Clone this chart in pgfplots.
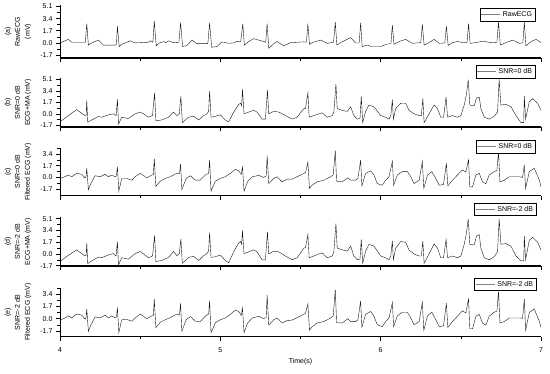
\documentclass[border=0pt]{standalone}
\usepackage{fontspec}
\setmainfont{Liberation Sans}
\usepackage{pgfplots}
\pgfplotsset{compat=1.18}

\pgfplotsset{
  panel/.style={
    scale only axis, width=481pt,
    xmin=4, xmax=7,
    xtick={4,5,6,7}, minor x tick num=1,
    ytick={-1.7,0,1.7,3.4,5.1}, minor y tick num=1,
    yticklabels={-1.7,0.0,1.7,3.4,5.1},
    axis x line*=bottom, axis y line*=left,
    x axis line style={-, line width=1.3pt},
    y axis line style={-, line width=0.7pt},
    tick align=outside,
    major tick length=4pt, minor tick length=2.5pt,
    every tick/.style={black, line width=0.6pt},
    tick label style={font=\fontsize{7}{8}\selectfont},
    /pgf/number format/assume math mode=true,
    ylabel style={at={(axis description cs:-0.087,0.5)}, anchor=center,
      align=center, font=\fontsize{7}{10}\selectfont},
    legend style={draw=black, line width=0.5pt, inner sep=1pt,
      font=\fontsize{7}{8}\selectfont, anchor=north east,
      row sep=-1pt},
    legend image code/.code={\draw[gray, line width=0.7pt] (0pt,0pt) -- (19pt,0pt);},
    cycle list={{black!90, line width=0.55pt, no marks}},
  }
}

\begin{document}
\begin{tikzpicture}
\path[use as bounding box] (0,0) rectangle (550pt,-373pt);

% (a) raw ECG
\begin{axis}[panel, at={(60pt,-58pt)}, anchor=south west,
  height=53pt, ymin=-2.1, ymax=5.3, xticklabels={},
  ylabel={(a)\\RawECG\\(mV)},
  legend style={at={(axis description cs:0.988,0.94)}}]
\addplot table {
4.000 0.0
4.052 0.5
4.073 0.1
4.146 0.1
4.158 0.1
4.167 2.7
4.177 -0.3
4.192 -0.05
4.240 0.4
4.271 -0.3
4.344 -0.3
4.352 -0.2
4.358 2.35
4.369 -0.5
4.385 -0.2
4.438 0.3
4.469 0.0
4.552 0.1
4.563 0.3
4.579 0.1
4.588 3.05
4.600 -0.4
4.615 -0.05
4.646 0.2
4.660 0.05
4.677 0.3
4.708 0.05
4.742 0.1
4.752 2.85
4.765 -0.5
4.792 -0.35
4.823 0.4
4.854 -0.1
4.922 -0.1
4.933 2.8
4.946 -0.6
4.979 -0.5
5.010 0.15
5.052 -0.05
5.083 0.0
5.104 0.25
5.127 0.15
5.140 2.7
5.150 -0.3
5.177 0.2
5.208 0.6
5.271 0.2
5.283 0.1
5.292 2.7
5.302 -0.75
5.333 -0.1
5.354 0.2
5.396 -0.4
5.438 0.05
5.521 0.15
5.537 0.1
5.546 2.7
5.556 -0.2
5.573 0.05
5.625 0.4
5.667 -0.05
5.706 0.1
5.717 2.9
5.727 -0.3
5.750 0.05
5.813 0.75
5.844 0.0
5.866 0.0
5.875 2.8
5.885 -0.5
5.917 -0.3
5.938 -0.5
6.000 -0.5
6.042 -0.15
6.064 -0.1
6.073 2.5
6.083 -0.2
6.115 0.2
6.156 0.5
6.198 -0.05
6.250 0.05
6.260 2.6
6.271 -0.3
6.302 0.05
6.333 0.5
6.365 -0.05
6.400 0.0
6.410 2.35
6.421 -0.35
6.448 0.05
6.479 0.2
6.510 0.05
6.539 0.1
6.548 2.7
6.558 -0.05
6.594 0.05
6.635 0.25
6.688 0.05
6.725 0.1
6.735 2.9
6.746 -0.3
6.781 0.05
6.823 0.4
6.865 -0.05
6.887 0.0
6.896 2.95
6.906 -0.4
6.938 0.2
6.969 0.5
7.000 0.05
};
\addlegendentry{RawECG}
\end{axis}

% (b) ECG + MA, SNR = 0 dB
\begin{axis}[panel, at={(60pt,-127pt)}, anchor=south west,
  height=49pt, ymin=-1.95, ymax=5.3, xticklabels={},
  ylabel={(b)\\SNR=0 dB\\ECG+MA (mV)},
  legend style={at={(axis description cs:0.988,1.265)}}]
\addplot table {
4.000 -1.2
4.052 -0.26
4.104 0.62
4.156 -0.26
4.163 -0.2
4.167 2.0
4.173 -1.25
4.198 -0.9
4.240 -0.4
4.260 -0.5
4.302 -0.15
4.333 0.0
4.350 -0.26
4.358 2.2
4.365 -1.56
4.385 -0.5
4.427 -0.7
4.469 0.0
4.500 0.26
4.521 0.0
4.552 -0.5
4.577 -0.26
4.590 3.1
4.598 -1.05
4.635 -0.9
4.677 -0.5
4.708 0.26
4.729 -0.26
4.744 0.0
4.754 2.6
4.763 -1.3
4.802 -0.5
4.833 -0.36
4.865 -0.9
4.896 -0.26
4.917 0.0
4.927 0.36
4.933 3.4
4.942 -0.5
4.969 -0.36
5.000 -0.15
5.031 -0.9
5.052 -1.2
5.083 0.26
5.115 1.4
5.127 1.56
5.133 1.2
5.138 3.65
5.148 0.0
5.177 0.26
5.208 0.52
5.229 0.26
5.260 -0.78
5.281 -0.78
5.294 3.5
5.302 0.0
5.333 0.36
5.365 0.26
5.406 -0.26
5.448 -0.78
5.479 -0.5
5.521 0.78
5.531 0.78
5.546 3.1
5.554 -0.5
5.583 -0.26
5.615 0.0
5.635 0.15
5.667 -0.5
5.698 -0.26
5.708 0.26
5.721 4.4
5.729 0.78
5.760 0.52
5.792 0.36
5.813 1.04
5.833 -0.26
5.854 -0.78
5.871 -0.68
5.879 2.6
5.888 -1.3
5.906 0.36
5.927 1.3
5.958 1.04
6.000 -0.26
6.031 -0.5
6.052 -0.78
6.063 -0.26
6.073 2.1
6.079 -0.78
6.094 0.78
6.125 1.56
6.156 1.56
6.177 0.52
6.208 0.0
6.240 -0.26
6.254 -0.26
6.263 2.3
6.271 -1.3
6.302 0.0
6.333 1.3
6.354 0.78
6.375 -0.5
6.392 -0.5
6.408 2.5
6.417 -0.5
6.448 -0.26
6.479 -0.5
6.500 -0.26
6.521 1.3
6.535 2.86
6.546 5.05
6.556 1.3
6.583 1.2
6.598 2.34
6.615 2.45
6.625 0.78
6.646 -0.5
6.677 -0.78
6.708 -0.36
6.729 0.26
6.739 5.1
6.750 1.3
6.781 1.4
6.813 1.04
6.844 -0.26
6.875 -1.3
6.892 -1.3
6.896 2.6
6.904 -0.78
6.927 1.8
6.948 2.24
6.979 1.56
7.000 0.52
};
\addlegendentry{SNR=0 dB}
\end{axis}

% (c) filtered, SNR = 0 dB
\begin{axis}[panel, at={(60pt,-195.7pt)}, anchor=south west,
  height=47.6pt, ymin=-2.65, ymax=4.25, xticklabels={},
  ylabel={(c)\\SNR=0 dB\\Filtered ECG (mV)},
  legend style={at={(axis description cs:0.988,1.17)}}]
\addplot table {
4.000 -0.15
4.031 0.1
4.052 0.35
4.073 0.1
4.104 0.6
4.135 0.45
4.156 -0.05
4.162 0.1
4.167 1.33
4.177 -1.77
4.192 -0.9
4.219 0.25
4.250 0.1
4.281 0.45
4.302 0.1
4.323 0.35
4.344 0.1
4.352 0.2
4.358 1.58
4.367 -2.0
4.385 -0.15
4.417 -0.15
4.448 -0.4
4.469 0.1
4.500 0.6
4.542 -0.05
4.573 0.35
4.582 0.4
4.588 2.7
4.598 -1.28
4.625 -0.55
4.656 -0.15
4.688 0.1
4.708 0.35
4.729 0.6
4.745 0.5
4.752 1.92
4.760 -1.77
4.787 -0.15
4.813 0.25
4.844 -0.4
4.875 -0.4
4.906 0.35
4.927 0.6
4.933 2.5
4.942 -2.0
4.969 -0.55
5.000 -0.15
5.031 0.1
5.063 0.6
5.094 1.18
5.115 0.94
5.130 0.45
5.138 1.5
5.148 -2.0
5.170 -0.6
5.200 0.1
5.240 0.3
5.270 0.0
5.286 0.2
5.292 3.15
5.302 -0.9
5.333 -0.15
5.354 0.1
5.385 -0.64
5.417 -0.25
5.448 -0.25
5.479 0.1
5.510 0.45
5.531 0.7
5.546 2.2
5.556 -1.6
5.573 -1.1
5.604 -0.64
5.646 -0.4
5.688 0.1
5.704 0.35
5.717 3.9
5.725 -0.55
5.760 -0.64
5.796 -0.05
5.813 -0.4
5.844 -0.4
5.858 -0.15
5.875 2.5
5.883 -1.23
5.906 0.6
5.938 0.94
5.958 0.35
5.979 -0.9
6.010 -1.13
6.031 -0.4
6.052 0.1
6.073 2.3
6.081 -1.13
6.104 0.35
6.135 0.84
6.167 0.84
6.188 0.1
6.208 -0.9
6.240 -0.4
6.260 2.3
6.269 -1.6
6.292 0.35
6.319 0.84
6.344 -0.15
6.365 -1.13
6.392 -1.03
6.410 2.07
6.419 -1.23
6.448 -0.4
6.479 0.35
6.510 1.08
6.531 0.8
6.548 2.56
6.556 -1.38
6.573 -1.38
6.594 0.35
6.615 0.6
6.635 -0.64
6.656 -0.9
6.677 0.35
6.708 0.84
6.725 1.0
6.735 3.7
6.744 -0.64
6.771 -0.4
6.802 0.1
6.833 0.1
6.865 0.1
6.885 0.0
6.896 1.8
6.904 -1.6
6.927 0.84
6.958 1.33
6.990 -0.4
7.000 -1.38
};
\addlegendentry{SNR=0 dB}
\end{axis}

% (d) ECG + MA, SNR = -2 dB
\begin{axis}[panel, at={(60pt,-266pt)}, anchor=south west,
  height=48.6pt, ymin=-1.75, ymax=5.3, xticklabels={},
  ylabel={(d)\\SNR=-2 dB\\ECG+MA (mV)},
  legend style={at={(axis description cs:0.99,1.30)}}]
\addplot table {
4.000 -1.1
4.052 -0.2
4.104 0.58
4.156 -0.3
4.163 -0.2
4.167 1.55
4.173 -1.4
4.198 -1.0
4.240 -0.45
4.260 -0.55
4.302 -0.15
4.333 0.05
4.350 -0.3
4.358 1.8
4.365 -1.6
4.385 -0.55
4.427 -0.75
4.469 0.05
4.500 0.35
4.521 0.0
4.552 -0.55
4.577 -0.3
4.590 2.65
4.598 -1.1
4.635 -0.95
4.677 -0.5
4.708 0.35
4.729 -0.25
4.744 0.05
4.754 2.2
4.763 -1.35
4.802 -0.5
4.833 -0.35
4.865 -0.95
4.896 -0.25
4.917 0.05
4.927 0.45
4.933 3.1
4.942 -0.5
4.969 -0.4
5.000 -0.15
5.031 -0.95
5.052 -1.3
5.083 0.3
5.115 1.6
5.127 1.8
5.133 1.4
5.138 3.4
5.148 0.05
5.177 0.3
5.208 0.6
5.229 0.3
5.260 -0.85
5.281 -0.85
5.294 3.2
5.302 0.0
5.333 0.4
5.365 0.3
5.406 -0.3
5.448 -0.85
5.479 -0.55
5.521 0.85
5.531 0.9
5.546 2.8
5.554 -0.55
5.583 -0.3
5.615 0.0
5.635 0.15
5.667 -0.55
5.698 -0.3
5.708 0.3
5.721 4.4
5.729 0.85
5.760 0.6
5.792 0.4
5.813 1.15
5.833 -0.3
5.854 -0.85
5.871 -0.75
5.879 2.1
5.888 -1.35
5.906 0.4
5.927 1.4
5.958 1.15
6.000 -0.3
6.031 -0.55
6.052 -0.85
6.063 -0.3
6.073 1.9
6.079 -0.85
6.094 0.85
6.125 1.8
6.156 1.7
6.177 0.55
6.208 0.0
6.240 -0.3
6.254 -0.3
6.263 1.9
6.271 -1.35
6.302 0.0
6.333 1.45
6.354 0.85
6.375 -0.55
6.392 -0.55
6.408 2.1
6.417 -0.55
6.448 -0.3
6.479 -0.55
6.500 -0.3
6.521 1.4
6.535 3.0
6.546 5.1
6.556 1.4
6.583 1.3
6.598 2.6
6.615 2.8
6.625 0.85
6.646 -0.55
6.677 -0.85
6.708 -0.4
6.729 0.3
6.739 5.1
6.750 1.4
6.781 1.5
6.813 1.1
6.844 -0.3
6.875 -1.0
6.892 -1.0
6.896 2.6
6.904 -0.85
6.927 2.0
6.948 2.4
6.979 1.7
7.000 0.55
};
\addlegendentry{SNR=-2 dB}
\end{axis}

% (e) filtered, SNR = -2 dB
\begin{axis}[panel, at={(60pt,-336.7pt)}, anchor=south west,
  height=49pt, ymin=-2.5, ymax=4.3,
  xticklabels={4,5,6,7},
  xticklabel style={yshift=-3pt},
  xlabel={Time(s)},
  xlabel style={at={(axis description cs:0.5,-0.52)}, anchor=center,
    font=\fontsize{7}{8}\selectfont},
  ylabel={(e)\\SNR=-2 dB\\Filtered ECG (mV)},
  legend style={at={(axis description cs:0.99,1.20)}}]
\addplot table {
4.000 -0.2
4.031 0.1
4.052 0.4
4.073 0.1
4.104 0.65
4.135 0.5
4.156 -0.05
4.162 0.1
4.167 1.35
4.177 -1.75
4.192 -0.9
4.219 0.25
4.250 0.1
4.281 0.5
4.302 0.1
4.323 0.4
4.344 0.1
4.352 0.2
4.358 1.58
4.367 -1.95
4.385 -0.15
4.417 -0.1
4.448 -0.35
4.469 0.1
4.500 0.65
4.542 0.0
4.573 0.4
4.582 0.45
4.588 2.74
4.598 -1.25
4.625 -0.5
4.656 -0.15
4.688 0.15
4.708 0.4
4.729 0.65
4.745 0.5
4.752 2.14
4.760 -1.75
4.787 -0.15
4.813 0.3
4.844 -0.35
4.875 -0.4
4.906 0.35
4.927 0.65
4.933 2.5
4.942 -1.95
4.969 -0.55
5.000 -0.15
5.031 0.1
5.063 0.6
5.094 1.2
5.115 1.0
5.130 0.45
5.138 1.5
5.148 -1.95
5.170 -0.6
5.200 0.1
5.240 0.35
5.270 0.0
5.286 0.2
5.292 3.3
5.302 -0.9
5.333 -0.15
5.354 0.1
5.385 -0.6
5.417 -0.25
5.448 -0.2
5.479 0.15
5.510 0.5
5.531 0.75
5.546 2.05
5.556 -1.6
5.573 -1.1
5.604 -0.6
5.646 -0.4
5.688 0.1
5.704 0.4
5.717 4.0
5.725 -0.55
5.760 -0.6
5.796 0.0
5.813 -0.4
5.844 -0.4
5.858 -0.15
5.875 2.46
5.883 -1.2
5.906 0.6
5.938 1.0
5.958 0.35
5.979 -0.85
6.010 -1.1
6.031 -0.4
6.052 0.1
6.073 2.23
6.081 -1.1
6.104 0.4
6.135 0.9
6.167 0.9
6.188 0.1
6.208 -0.85
6.240 -0.4
6.260 2.28
6.269 -1.6
6.292 0.4
6.319 0.9
6.344 -0.15
6.365 -1.1
6.392 -1.0
6.410 2.14
6.419 -1.2
6.448 -0.4
6.479 0.35
6.510 1.1
6.531 0.8
6.548 2.74
6.556 -1.4
6.573 -1.4
6.594 0.35
6.615 0.6
6.635 -0.6
6.656 -0.9
6.677 0.35
6.708 0.9
6.725 1.05
6.735 3.77
6.744 -0.6
6.771 -0.4
6.802 0.1
6.833 0.1
6.865 0.1
6.885 0.05
6.896 2.74
6.904 -1.6
6.927 0.85
6.958 1.35
6.990 -0.4
7.000 -1.2
};
\addlegendentry{SNR=-2 dB}
\end{axis}
\end{tikzpicture}
\end{document}
